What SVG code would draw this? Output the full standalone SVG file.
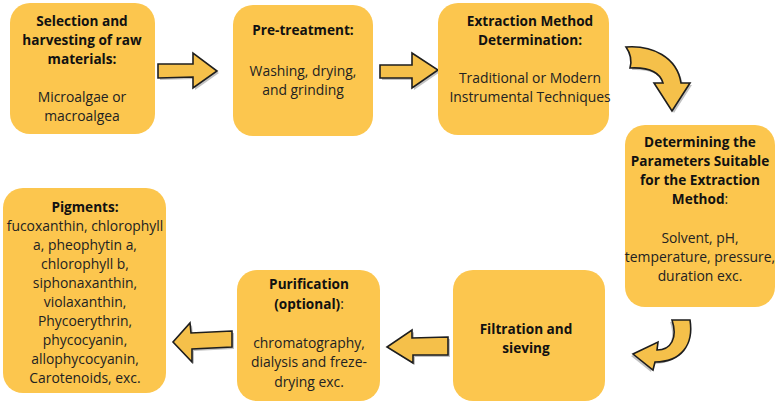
<svg xmlns="http://www.w3.org/2000/svg" width="777" height="404" viewBox="0 0 777 404">
<style>
.box{fill:#FCC64E;}
.t{font-family:"Open Sans","Liberation Sans",sans-serif;font-size:13.9px;fill:#222;text-anchor:middle;}
.b{font-weight:bold;fill:#111;font-size:13.6px;}
.arr{fill:#F5C04A;stroke:#1e1e1e;stroke-width:1.6;stroke-linejoin:miter;}
.sh{fill:#777;opacity:0.45;}
</style>
<defs>
<path id="a1" d="M158,64 L193,64 L193,53 L217,71 L193,88 L193,77 L158,78 Z"/>
<path id="a2" d="M380,65 L412,65 L412,53 L438,70 L412,88 L412,78 L380,78 Z"/>
<path id="a3" d="M626,47 C652,45 677,57 681,83 L690,83 L672,111 L654,83 L663,83 C660,73 649,67 630,68 Q633,57 626,47 Z"/>
<path id="a4" d="M672,320 L690,320 C694,345 681,362 655,362 L653,370 L633,354 L658,342 L657,350 C671,350 678,338 672,320 Z"/>
<path id="a5" d="M448,337 L412,338 L412,330 L387,347 L413,363 L413,355 L448,355 Z"/>
<path id="a6" d="M232,331 L191,333 L190,323 L173,342 L192,362 L192,349 L232,347 Z"/>
</defs>
<rect width="777" height="404" fill="#fff"/>
<g id="connectors">
<use href="#a1" class="sh" transform="translate(2,2)"/><use href="#a1" class="arr"/>
<use href="#a2" class="sh" transform="translate(2,2)"/><use href="#a2" class="arr"/>
<use href="#a3" class="sh" transform="translate(2,2)"/><use href="#a3" class="arr"/>
<use href="#a4" class="sh" transform="translate(-2,2)"/><use href="#a4" class="arr"/>
<use href="#a5" class="sh" transform="translate(2,2)"/><use href="#a5" class="arr"/>
<use href="#a6" class="sh" transform="translate(2,2)"/><use href="#a6" class="arr"/>
</g>
<g id="n1">
<rect class="box" x="10" y="3" width="145" height="131" rx="20"/>
<text class="t b" x="82" y="26">Selection and</text>
<text class="t b" x="82" y="45">harvesting of raw</text>
<text class="t b" x="82" y="64">materials:</text>
<text class="t" x="82" y="102">Microalgae or</text>
<text class="t" x="82" y="121">macroalgea</text>
</g>
<g id="n2">
<rect class="box" x="233" y="5" width="140" height="131" rx="20"/>
<text class="t b" x="303" y="35">Pre-treatment:</text>
<text class="t" x="303" y="76">Washing, drying,</text>
<text class="t" x="303" y="95">and grinding</text>
</g>
<g id="n3">
<rect class="box" x="438" y="3" width="171" height="132" rx="20"/>
<text class="t b" x="530" y="26">Extraction Method</text>
<text class="t b" x="530" y="45">Determination:</text>
<text class="t" x="530" y="83">Traditional or Modern</text>
<text class="t" x="530" y="102">Instrumental Techniques</text>
</g>
<g id="n4">
<rect class="box" x="625" y="125" width="150" height="182" rx="20"/>
<text class="t b" x="700" y="147">Determining the</text>
<text class="t b" x="700" y="166">Parameters Suitable</text>
<text class="t b" x="700" y="185">for the Extraction</text>
<text class="t" x="700" y="204"><tspan class="b">Method</tspan>:</text>
<text class="t" x="700" y="243">Solvent, pH,</text>
<text class="t" x="700" y="262">temperature, pressure,</text>
<text class="t" x="700" y="281">duration exc.</text>
</g>
<g id="n5">
<rect class="box" x="453" y="270" width="152" height="131" rx="20"/>
<text class="t b" x="526" y="334">Filtration and</text>
<text class="t b" x="526" y="353">sieving</text>
</g>
<g id="n6">
<rect class="box" x="237" y="270" width="143" height="131" rx="20"/>
<text class="t b" x="309" y="289">Purification</text>
<text class="t" x="309" y="309"><tspan class="b">(optional)</tspan>:</text>
<text class="t" x="309" y="348">chromatography,</text>
<text class="t" x="309" y="367">dialysis and freze-</text>
<text class="t" x="309" y="387">drying exc.</text>
</g>
<g id="n7">
<rect class="box" x="3" y="188" width="163" height="205" rx="20"/>
<text class="t b" x="85" y="212">Pigments:</text>
<text class="t" x="85" y="231">fucoxanthin, chlorophyll</text>
<text class="t" x="85" y="250">a, pheophytin a,</text>
<text class="t" x="85" y="269">chlorophyll b,</text>
<text class="t" x="85" y="288">siphonaxanthin,</text>
<text class="t" x="85" y="307">violaxanthin,</text>
<text class="t" x="85" y="326">Phycoerythrin,</text>
<text class="t" x="85" y="345">phycocyanin,</text>
<text class="t" x="85" y="364">allophycocyanin,</text>
<text class="t" x="85" y="383">Carotenoids, exc.</text>
</g>
</svg>
